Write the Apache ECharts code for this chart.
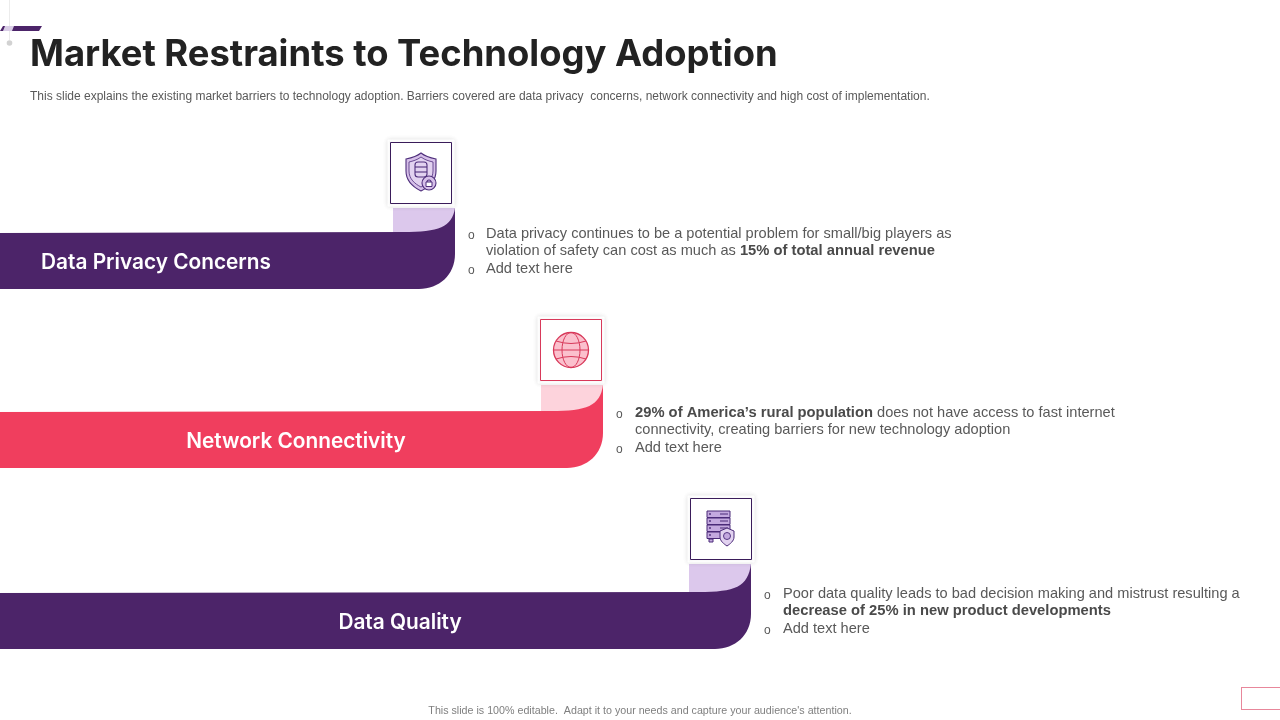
<!DOCTYPE html>
<html>
<head>
<meta charset="utf-8">
<title>Market Restraints to Technology Adoption</title>
<script src="https://cdn.jsdelivr.net/npm/echarts@6/dist/echarts.min.js"></script>
<style>
  html, body { margin: 0; padding: 0; background: #fff; }
  #container { width: 1280px; height: 720px; }
</style>
</head>
<body>
<div id="container"></div>
<script>
const titulo = "Market Restraints to Technology Adoption";
const subtitulo = "This slide explains the existing market barriers to technology adoption. Barriers covered are data privacy  concerns, network connectivity and high cost of implementation.";
const pie = "This slide is 100% editable.  Adapt it to your needs and capture your audience's attention.";

const categorias = ["Data Privacy Concerns", "Network Connectivity", "Data Quality"];
// largo de cada barra
const largos = [455, 603, 751];
const detalles = [
  ["Data privacy continues to be a potential problem for small/big players as", "violation of safety can cost as much as {b|15% of total annual revenue}", "Add text here"],
  ["{b|29% of America\u2019s rural population} does not have access to fast internet", "connectivity, creating barriers for new technology adoption", "Add text here"],
  ["Poor data quality leads to bad decision making and mistrust resulting a", "{b|decrease of 25% in new product developments}", "Add text here"],
];

/* estilos por fila */
const coloresBarra = ["#4c2469", "#f03e5e", "#4c2469"];
const coloresClaro = ["#dcc8ec", "#fdd3dc", "#dcc8ec"];
const coloresBorde = ["#3a1c5a", "#d8395a", "#3a1c5a"];
const centroEtiqueta = [156, 296, 400];
const ajusteY = [0, -1, 0];
const subida = [25, 27, 29];
const cajaOffset = [-65, -63, -61];
const textoOffset = [31, 32, 32];

const fuenteTitulo = "Inter, sans-serif";
const fuenteTexto = "'Liberation Sans', Arial, sans-serif";

const pathCaja = (d, x, y, width, height, style) => ({
  type: "path",
  shape: { pathData: d, x, y, width, height, layout: "cover" },
  style,
});

function iconoEscudo(cx, cy) {
  const line = { stroke: "#4f2f7c", lineWidth: 1.1, fill: "#d6bfe9" };
  const sinFill = { stroke: "#4f2f7c", lineWidth: 1.1, fill: "none" };
  const d = `M${cx} ${cy - 20} C${cx + 5} ${cy - 16} ${cx + 10} ${cy - 15} ${cx + 15} ${cy - 14} L${cx + 15} ${cy - 2} C${cx + 15} ${cy + 8} ${cx + 8} ${cy + 14} ${cx} ${cy + 18} C${cx - 8} ${cy + 14} ${cx - 15} ${cy + 8} ${cx - 15} ${cy - 2} L${cx - 15} ${cy - 14} C${cx - 10} ${cy - 15} ${cx - 5} ${cy - 16} ${cx} ${cy - 20} Z`;
  const d2 = `M${cx} ${cy - 16} C${cx + 4} ${cy - 13} ${cx + 8} ${cy - 12} ${cx + 12} ${cy - 11} L${cx + 12} ${cy - 2} C${cx + 12} ${cy + 6} ${cx + 6} ${cy + 11} ${cx} ${cy + 14} C${cx - 6} ${cy + 11} ${cx - 12} ${cy + 6} ${cx - 12} ${cy - 2} L${cx - 12} ${cy - 11} C${cx - 8} ${cy - 12} ${cx - 4} ${cy - 13} ${cx} ${cy - 16} Z`;
  return [
    pathCaja(d, cx - 15, cy - 20, 30, 38, line),
    pathCaja(d2, cx - 12, cy - 16, 24, 30, { stroke: "#4f2f7c", lineWidth: 0.8, fill: "#e2d2f0" }),
    { type: "rect", shape: { x: cx - 6, y: cy - 11, width: 12, height: 15, r: 3 }, style: sinFill },
    { type: "line", shape: { x1: cx - 6, y1: cy - 6, x2: cx + 6, y2: cy - 6 }, style: sinFill },
    { type: "line", shape: { x1: cx - 6, y1: cy - 1, x2: cx + 6, y2: cy - 1 }, style: sinFill },
    { type: "circle", shape: { cx: cx + 8, cy: cy + 10, r: 7 }, style: line },
    { type: "rect", shape: { x: cx + 5, y: cy + 9, width: 6, height: 4.5 }, style: { stroke: "#4f2f7c", lineWidth: 1, fill: "#fff" } },
    { type: "arc", shape: { cx: cx + 8, cy: cy + 9, r: 2, startAngle: Math.PI, endAngle: 0 }, style: sinFill },
  ];
}

function iconoGlobo(cx, cy) {
  const c = "#d8395a";
  const sinFill = { stroke: c, lineWidth: 1, fill: "none" };
  const curva = (y, h) => ({ type: "bezierCurve", shape: { x1: cx - 15, y1: cy + y, x2: cx + 15, y2: cy + y, cpx1: cx, cpy1: cy + y + h }, style: sinFill });
  return [
    { type: "circle", shape: { cx, cy, r: 17.5 }, style: { stroke: c, lineWidth: 1.3, fill: "#fbc0cd" } },
    { type: "ellipse", shape: { cx, cy, rx: 9, ry: 17.5 }, style: sinFill },
    { type: "line", shape: { x1: cx - 17, y1: cy, x2: cx + 17, y2: cy }, style: sinFill },
    curva(-9, 5),
    curva(9, -5),
  ];
}

function iconoServidor(cx, cy) {
  const line = { stroke: "#4a2a78", lineWidth: 1, fill: "#c4a9df" };
  const filas = [-18, -11, -4, 3];
  const out = [];
  filas.forEach((dy) => {
    out.push({ type: "rect", shape: { x: cx - 14, y: cy + dy, width: 23, height: 6.5 }, style: line });
    out.push({ type: "circle", shape: { cx: cx - 11, cy: cy + dy + 3, r: 0.9 }, style: { fill: "#4a2a78" } });
    out.push({ type: "line", shape: { x1: cx - 1, y1: cy + dy + 3, x2: cx + 7, y2: cy + dy + 3 }, style: { stroke: "#4a2a78", lineWidth: 1 } });
  });
  out.push({ type: "rect", shape: { x: cx - 12, y: cy + 10, width: 4, height: 3 }, style: line });
  const sx = cx + 6, sy = cy + 8;
  const d = `M${sx} ${sy - 9} L${sx + 7} ${sy - 6} L${sx + 7} ${sy} C${sx + 7} ${sy + 4} ${sx + 3} ${sy + 7} ${sx} ${sy + 9} C${sx - 3} ${sy + 7} ${sx - 7} ${sy + 4} ${sx - 7} ${sy} L${sx - 7} ${sy - 6} Z`;
  out.push(pathCaja(d, sx - 7, sy - 9, 14, 18, { stroke: "#4a2a78", lineWidth: 1, fill: "#e2d2f0" }));
  out.push({ type: "circle", shape: { cx: sx, cy: sy - 1, r: 3.5 }, style: { stroke: "#4a2a78", lineWidth: 0.9, fill: "#c4a9df" } });
  return out;
}

const iconos = [iconoEscudo, iconoGlobo, iconoServidor];

function renderFila(params, api) {
  const i = api.value(1);
  const fin = api.coord([api.value(0), i]);
  const cero = api.coord([0, i]);
  const xFin = fin[0];
  const cy = fin[1] + ajusteY[i];
  const arriba = cy - 28;
  const abajo = cy + 28;
  const tope = arriba - subida[i];

  const cinta =
    `M0 ${arriba} L${xFin - 52} ${arriba - 1} C${xFin - 16} ${arriba - 1} ${xFin - 3} ${arriba - 6} ${xFin} ${tope}` +
    ` L${xFin} ${abajo - 35} C${xFin} ${abajo - 14} ${xFin - 16} ${abajo} ${xFin - 36} ${abajo} L0 ${abajo} Z`;

  const cajaX = xFin + cajaOffset[i];
  const cajaY = tope - 66;
  const hijos = [
    { type: "rect", shape: { x: xFin - 62, y: tope, width: 62, height: subida[i] + 1 }, style: { fill: coloresClaro[i] } },
    pathCaja(cinta, cero[0], tope, xFin, abajo - tope, { fill: coloresBarra[i] }),
    {
      type: "rect",
      shape: { x: cajaX - 2, y: cajaY - 2, width: 66, height: 66 },
      style: { fill: "#fff", stroke: "#fff", shadowBlur: 5, shadowColor: "rgba(0,0,0,0.12)" },
    },
    { type: "rect", shape: { x: cajaX + 0.5, y: cajaY + 0.5, width: 61, height: 61 }, style: { fill: "#fff", stroke: coloresBorde[i], lineWidth: 1 } },
    {
      type: "text",
      style: {
        text: api.value(2),
        x: centroEtiqueta[i],
        y: cy + 1.5,
        align: "center",
        verticalAlign: "middle",
        fill: "#fff",
        font: `600 20.8px ${fuenteTitulo}`,
      },
    },
  ].concat(iconos[i](cajaX + 31, cajaY + 31));

  detalles[i].forEach((linea, n) => {
    const yLinea = arriba + 0.8 + n * 17.5;
    if (n !== 1) {
      hijos.push({
        type: "text",
        style: { text: "o", x: xFin + 13, y: yLinea + 2, verticalAlign: "middle", fill: "#595959", font: `12px ${fuenteTexto}` },
      });
    }
    hijos.push({
      type: "text",
      style: {
        text: linea,
        x: xFin + textoOffset[i],
        y: yLinea,
        verticalAlign: "middle",
        fill: "#595959",
        font: `14.6px ${fuenteTexto}`,
        rich: { b: { fontWeight: "bold", fontSize: 14.75, fontFamily: fuenteTexto, fill: "#4a4a4a" } },
      },
    });
  });

  return { type: "group", children: hijos };
}

let dom = document.getElementById("container");
let myChart = echarts.init(dom, null, { renderer: "canvas" });

let option = {
  animation: false,
  backgroundColor: "#fff",
  grid: { left: 0, right: 0, top: 171, height: 540 },
  xAxis: { type: "value", min: 0, max: 1280, show: false },
  yAxis: { type: "category", data: categorias, inverse: true, show: false },
  series: [
    {
      type: "custom",
      renderItem: renderFila,
      clip: false,
      encode: { x: 0, y: 1 },
      data: largos.map((v, i) => [v, i, categorias[i]]),
    },
  ],
  graphic: [
    { type: "line", shape: { x1: 9.5, y1: 0, x2: 9.5, y2: 40 }, style: { stroke: "#ececec", lineWidth: 1 } },
    { type: "circle", shape: { cx: 9.5, cy: 43, r: 2.8 }, style: { fill: "#d2d2d2" } },
    { type: "polygon", shape: { points: [[3, 26], [42, 26], [39, 31], [0, 31]] }, style: { fill: "#4c2469" } },
    { type: "polygon", shape: { points: [[5, 26], [14, 26], [12, 31], [3, 31]] }, style: { fill: "#d9cde6" } },
    {
      type: "text",
      style: { text: titulo, x: 30, y: 55, verticalAlign: "middle", fill: "#222222", font: `bold 36.4px ${fuenteTitulo}` },
    },
    {
      type: "text",
      style: { text: subtitulo, x: 30, y: 96.5, verticalAlign: "middle", fill: "#595959", font: `12px ${fuenteTexto}` },
    },
    {
      type: "text",
      style: { text: pie, x: 640, y: 711, align: "center", verticalAlign: "middle", fill: "#7f7f7f", font: `10.7px ${fuenteTexto}` },
    },
    { type: "rect", shape: { x: 1241, y: 687, width: 40, height: 23 }, style: { fill: "#e8879b" } },
    { type: "rect", shape: { x: 1242, y: 688, width: 40, height: 21 }, style: { fill: "#fff" } },
  ],
};

if (option && typeof option === "object") {
  myChart.setOption(option);
}

window.addEventListener("resize", myChart.resize);
</script>
</body>
</html>
